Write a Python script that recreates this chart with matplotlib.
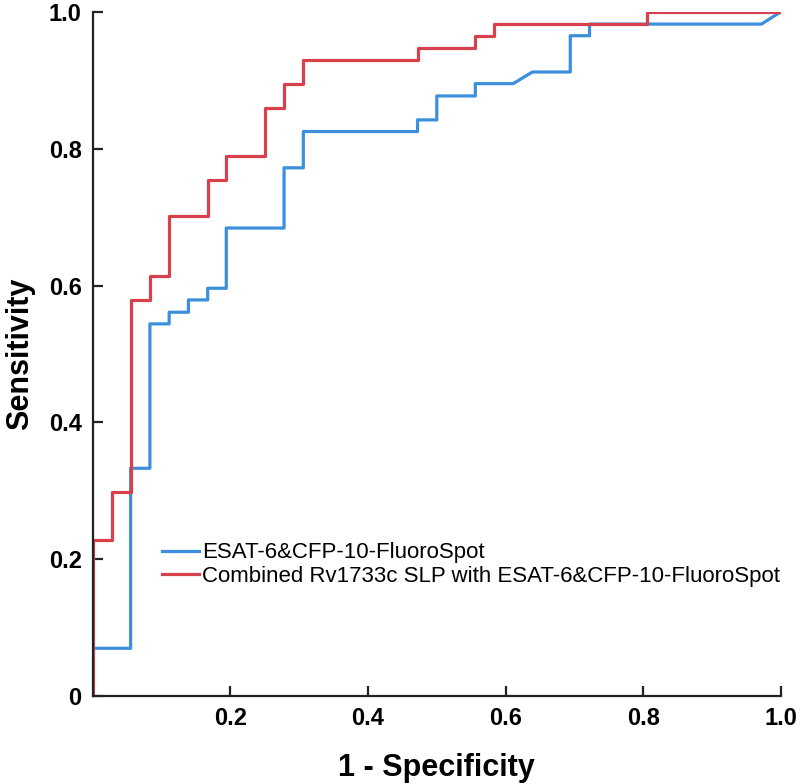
import matplotlib
matplotlib.use("Agg")
import matplotlib.pyplot as plt

# ===========================
# ROC data
# ===========================

esat_fpr = [0.0, 0.0, 0.055, 0.055, 0.083, 0.083, 0.111, 0.111, 0.139, 0.139,
            0.167, 0.167, 0.194, 0.194, 0.278, 0.278, 0.306, 0.306, 0.472, 0.472,
            0.500, 0.500, 0.556, 0.556, 0.611, 0.639, 0.694, 0.694, 0.722, 0.722,
            0.972, 1.0]
esat_tpr = [0.0, 0.070, 0.070, 0.333, 0.333, 0.544, 0.544, 0.561, 0.561, 0.579,
            0.579, 0.596, 0.596, 0.684, 0.684, 0.772, 0.772, 0.825, 0.825, 0.842,
            0.842, 0.877, 0.877, 0.895, 0.895, 0.912, 0.912, 0.965, 0.965, 0.982,
            0.982, 1.0]

comb_fpr = [0.0, 0.0, 0.028, 0.028, 0.055, 0.055, 0.083, 0.083, 0.111, 0.111,
            0.167, 0.167, 0.194, 0.194, 0.250, 0.250, 0.278, 0.278, 0.306, 0.306,
            0.472, 0.472, 0.556, 0.556, 0.583, 0.583, 0.806, 0.806, 1.0]
comb_tpr = [0.0, 0.228, 0.228, 0.298, 0.298, 0.579, 0.579, 0.614, 0.614, 0.702,
            0.702, 0.754, 0.754, 0.789, 0.789, 0.860, 0.860, 0.895, 0.895, 0.930,
            0.930, 0.947, 0.947, 0.965, 0.965, 0.982, 0.982, 1.0, 1.0]

x_ticks = [0.2, 0.4, 0.6, 0.8, 1.0]
x_labels = ["0.2", "0.4", "0.6", "0.8", "1.0"]
y_ticks = [0.0, 0.2, 0.4, 0.6, 0.8, 1.0]
y_labels = ["0", "0.2", "0.4", "0.6", "0.8", "1.0"]

labels = [
    "ESAT-6&CFP-10-FluoroSpot",
    "Combined Rv1733c SLP with ESAT-6&CFP-10-FluoroSpot"
]

BLUE = "#3b8fdb"
RED = "#d8404c"
NARROW = ["Liberation Sans Narrow", "Liberation Sans", "DejaVu Sans"]

# ===========================
# Plot
# ===========================

fig = plt.figure(figsize=(8, 7.84), dpi=100)
ax = fig.add_axes([0.116, 0.112, 0.860, 0.873])

ax.plot(esat_fpr, esat_tpr, color=BLUE, lw=2.3, label=labels[0])
ax.plot(comb_fpr, comb_tpr, color=RED, lw=2.3, label=labels[1])

ax.set_xlim(0, 1)
ax.set_ylim(0, 1)

for side in ["top", "right"]:
    ax.spines[side].set_visible(False)
for side in ["left", "bottom"]:
    ax.spines[side].set_linewidth(1.6)
    ax.spines[side].set_color("#222222")

ax.set_xticks(x_ticks)
ax.set_xticklabels(x_labels, fontfamily=NARROW, fontweight="bold", fontsize=17)
ax.set_yticks(y_ticks)
ax.set_yticklabels(y_labels, fontfamily=NARROW, fontweight="bold", fontsize=17)
ax.tick_params(direction="in", length=7, width=1.6, color="#222222", pad=8)

ax.set_xlabel("1 - Specificity", fontfamily=NARROW, fontweight="bold",
              fontsize=22, labelpad=16)
ax.set_ylabel("Sensitivity", fontfamily=NARROW, fontweight="bold",
              fontsize=22, labelpad=10)

ax.legend(
    loc="upper left",
    bbox_to_anchor=(0.072, 0.254),
    frameon=False,
    handlelength=1.65,
    handletextpad=0.15,
    labelspacing=0.1,
    prop={"family": NARROW, "size": 16}
)

fig.savefig("out.png", dpi=100)
